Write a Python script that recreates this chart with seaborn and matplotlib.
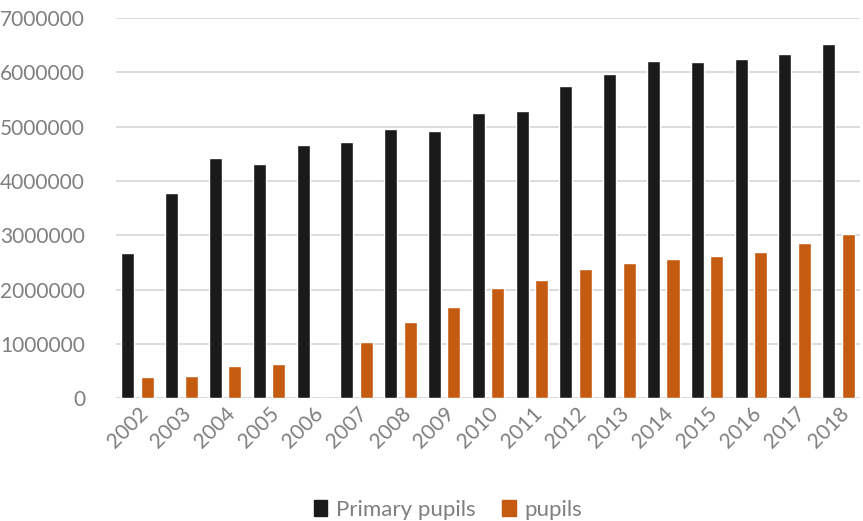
import matplotlib
matplotlib.use("Agg")
import matplotlib.pyplot as plt
import seaborn as sns
import pandas as pd
from matplotlib.patches import Patch

years = [str(y) for y in range(2002, 2019)]
primary_pupils = [2670000, 3775000, 4420000, 4315000, 4660000, 4710000, 4965000, 4930000,
                  5260000, 5285000, 5757000, 5973000, 6206000, 6188000, 6254000, 6335000, 6530000]
pupils = [387000, 398000, 582000, 632000, 0, 1024000, 1405000, 1680000,
          2026000, 2180000, 2387000, 2490000, 2560000, 2615000, 2690000, 2866000, 3030000]
series_names = ["Primary pupils", "pupils"]
colors = ["#1a1a1a", "#c55a11"]

df = pd.DataFrame({
    "year": years * 2,
    "value": primary_pupils + pupils,
    "series": [series_names[0]] * len(years) + [series_names[1]] * len(years),
})

sns.set_theme(style="white")
plt.rcParams['font.family'] = ['Lato', 'DejaVu Sans']

fig = plt.figure(figsize=(8.63, 5.21), dpi=100)
ax = fig.add_axes([0.134, 0.236, 0.863, 0.729])

sns.barplot(data=df, x="year", y="value", hue="series", palette=colors,
            width=0.89, gap=0.33, ax=ax, legend=False, saturation=1)

ax.set_ylim(0, 7000000)
ax.set_yticks(range(0, 7000001, 1000000))
ax.set_yticklabels([str(v) for v in range(0, 7000001, 1000000)])
ax.set_xlim(-0.5, len(years) - 0.5)
ax.yaxis.grid(True, color="#d9d9d9", linewidth=1.3)
ax.set_axisbelow(True)
for s in ax.spines.values():
    s.set_visible(False)
ax.axhline(0, color="#d9d9d9", linewidth=1.3, zorder=0)
ax.set_xlabel("")
ax.set_ylabel("")
ax.tick_params(axis="y", colors="#7f7f7f", labelsize=15, length=0, pad=22)
ax.tick_params(axis="x", colors="#7f7f7f", labelsize=15, length=0, pad=4)
for lab in ax.get_xticklabels():
    lab.set_rotation(45)
    lab.set_ha("right")
    lab.set_rotation_mode("anchor")

handles = [Patch(facecolor=c, edgecolor=c, label=n) for c, n in zip(colors, series_names)]
leg = fig.legend(handles=handles, loc="center", bbox_to_anchor=(0.519, 0.022), ncol=2,
                 frameon=False, fontsize=16, handlelength=0.6, handleheight=0.7,
                 handletextpad=0.4, columnspacing=1.2)
for t in leg.get_texts():
    t.set_color("#7f7f7f")

fig.savefig("out.png", dpi=100)
